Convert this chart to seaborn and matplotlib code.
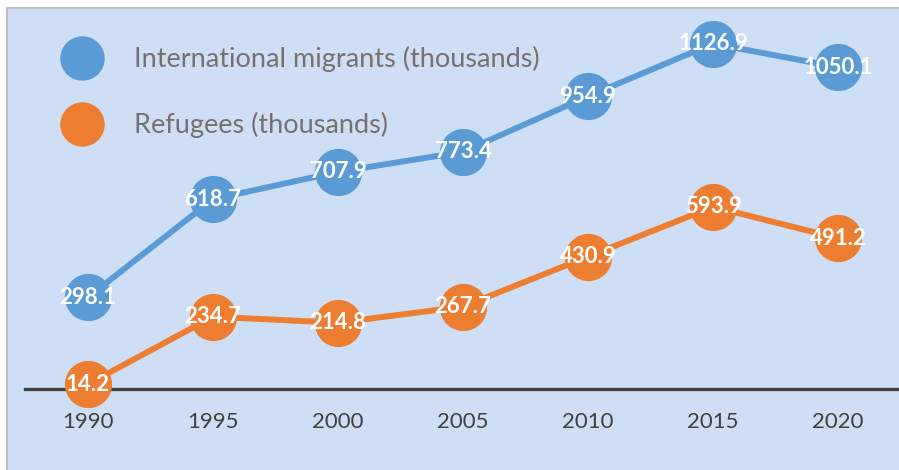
import pandas as pd
import seaborn as sns
import matplotlib.pyplot as plt
from matplotlib.lines import Line2D
from matplotlib.patches import Rectangle

years = [1990, 1995, 2000, 2005, 2010, 2015, 2020]
migrants = [298.1, 618.7, 707.9, 773.4, 954.9, 1126.9, 1050.1]
refugees = [14.2, 234.7, 214.8, 267.7, 430.9, 593.9, 491.2]
series_names = ["International migrants (thousands)", "Refugees (thousands)"]
colors = ["#5b9bd5", "#ed7d31"]

df = pd.concat([
    pd.DataFrame({"year": years, "value": migrants, "series": series_names[0]}),
    pd.DataFrame({"year": years, "value": refugees, "series": series_names[1]}),
])

sns.set_theme(style="white")
plt.rcParams["font.family"] = ["Lato", "DejaVu Sans"]

W, H = 899, 470
fig = plt.figure(figsize=(W / 100, H / 100), dpi=100)
fig.patch.set_facecolor("white")

# light blue panel with grey top/left border
fig.patches.append(Rectangle((7 / W, 0), 1, (H - 8) / H, transform=fig.transFigure,
                             facecolor="#cedff5", edgecolor="none", zorder=-10))
fig.add_artist(Line2D([7 / W, 7 / W], [0, (H - 8) / H], color="#bfbfbf", lw=1.5, zorder=-5))
fig.add_artist(Line2D([7 / W, 1], [(H - 8) / H] * 2, color="#bfbfbf", lw=1.5, zorder=-5))

# axes: bottom spine is the dark baseline
ax = fig.add_axes([25 / W, 81.5 / H, 1 - 25 / W, 1 - 81.5 / H])
ax.set_facecolor("none")
ax.set_xlim(1987.48, 2022.44)
ax.set_ylim(0, 388.5 * 3.268)

sns.lineplot(data=df, x="year", y="value", hue="series", palette=colors,
             marker="o", markersize=34, markeredgewidth=0, linewidth=4.3,
             legend=False, ax=ax, zorder=3, clip_on=False)

for vals in (migrants, refugees):
    for x, v in zip(years, vals):
        ax.text(x, v, f"{v:.1f}", ha="center", va="center", color="white",
                fontsize=16, fontweight="bold", zorder=4)

for s in ["top", "right", "left"]:
    ax.spines[s].set_visible(False)
ax.spines["bottom"].set_color("#404040")
ax.spines["bottom"].set_linewidth(2.4)
ax.set_xticks(years)
ax.set_xticklabels([str(y) for y in years], fontsize=16, color="#404040")
ax.set_yticks([])
ax.tick_params(axis="x", length=0, pad=17)
ax.set_xlabel("")
ax.set_ylabel("")

handles = [Line2D([], [], marker="o", ls="none", markersize=32,
                  markerfacecolor=c, markeredgewidth=0) for c in colors]
ax.legend(handles, series_names, loc="upper left",
          bbox_to_anchor=(64.5 / W, (H - 46) / H), bbox_transform=fig.transFigure,
          frameon=False, fontsize=19.5, labelcolor="#757171", borderpad=0,
          borderaxespad=0, handlelength=1.3, handletextpad=1.28, labelspacing=1.48)

fig.savefig("out.png", dpi=100)
